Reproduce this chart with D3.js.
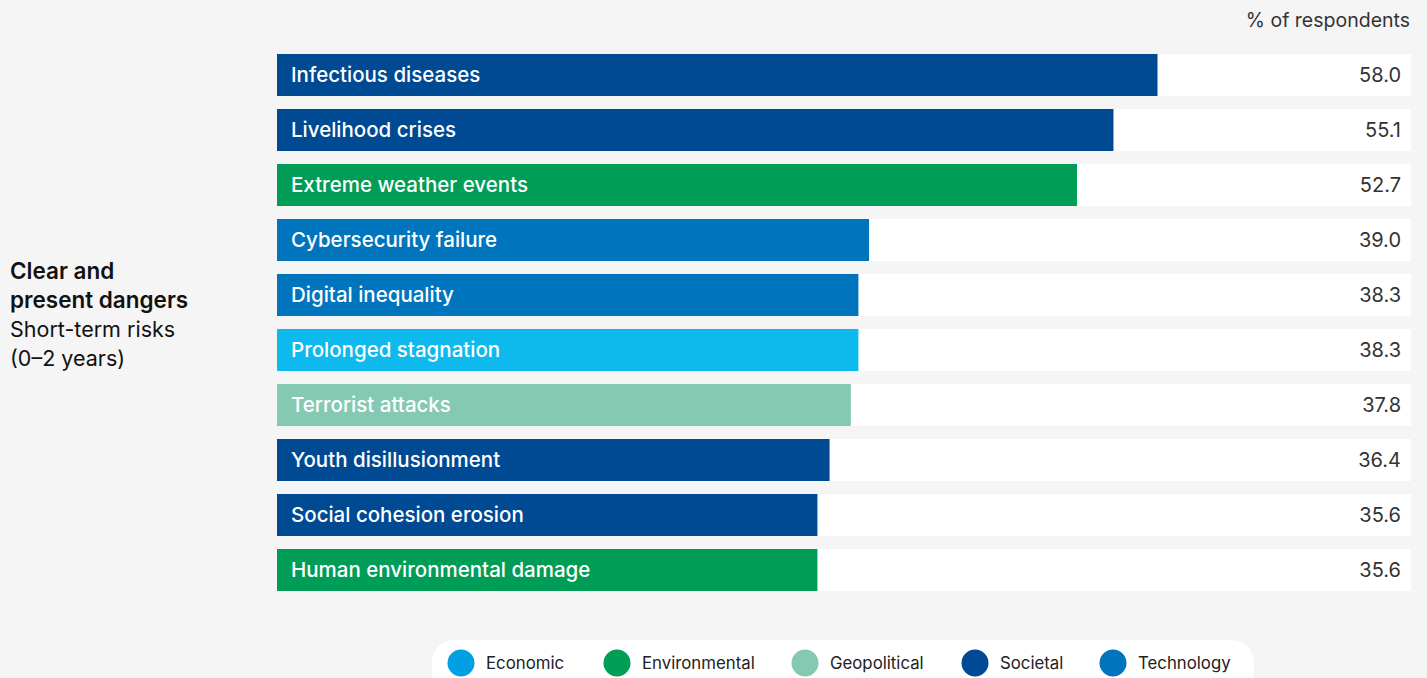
<!DOCTYPE html>
<html><head><meta charset="utf-8">
<script src="https://cdn.jsdelivr.net/npm/d3@7"></script>
<style>
html,body{margin:0;padding:0;background:#f5f5f5;}
svg{display:block;font-family:Inter,"Liberation Sans",Arial,sans-serif;}
</style></head><body>
<svg id="chart" width="1427" height="678"></svg>
<script>
const risks = ["Infectious diseases","Livelihood crises","Extreme weather events","Cybersecurity failure","Digital inequality","Prolonged stagnation","Terrorist attacks","Youth disillusionment","Social cohesion erosion","Human environmental damage"];
const values = [58.0,55.1,52.7,39.0,38.3,38.3,37.8,36.4,35.6,35.6];
const categories = ["Societal","Societal","Environmental","Technology","Technology","Economic","Geopolitical","Societal","Societal","Environmental"];
const legendNames = ["Economic","Environmental","Geopolitical","Societal","Technology"];
const legendColors = ["#00a0e3","#009d57","#86c9b3","#004a93","#0075be"];
const barColors = {Economic:"#0db9ed",Environmental:"#009d57",Geopolitical:"#86c9b3",Societal:"#004a93",Technology:"#0075be"};

const svg = d3.select("#chart");
const x = d3.scaleLinear().domain([0,74.7]).range([277,1411]);
const step = 55, bh = 42;
const y = d3.scalePoint().domain(risks).range([54, 54 + step*(risks.length-1)]);

svg.append("text").attr("x",1410).attr("y",27).attr("text-anchor","end")
  .attr("font-size",19.5).attr("fill","#333").text("% of respondents");

const rows = svg.append("g").selectAll("g.row").data(risks).join("g").attr("class","row");
rows.append("rect").attr("x",x(0)).attr("y",d=>y(d)).attr("width",x.range()[1]-x(0)).attr("height",bh).attr("fill","#fff");
rows.append("rect").attr("x",x(0)).attr("y",d=>y(d)).attr("width",(d,i)=>x(values[i])-x(0)).attr("height",bh)
  .attr("fill",(d,i)=>barColors[categories[i]]);
rows.append("text").attr("x",291).attr("y",d=>y(d)+bh/2+7).attr("fill","#fff").attr("font-size",20.5).attr("font-weight",500).text(d=>d);
rows.append("text").attr("x",1401).attr("y",d=>y(d)+bh/2+7).attr("text-anchor","end").attr("fill","#333").attr("font-size",20).text((d,i)=>values[i].toFixed(1));

const lt = svg.append("text").attr("fill","#111");
[["Clear and",600,279,22.5],["present dangers",600,308,22.5],["Short-term risks",400,337,21.5],["(0\u20132 years)",400,366,21.5]].forEach(([t,w,yy,fs])=>{
  lt.append("tspan").attr("x",10).attr("y",yy).attr("font-weight",w).attr("font-size",fs).text(t);
});

svg.append("rect").attr("x",432).attr("y",640).attr("width",822).attr("height",60).attr("rx",22).attr("fill","#fff");
const lx = [461,617,805,975,1113];
const lg = svg.selectAll("g.leg").data(legendNames).join("g").attr("class","leg");
lg.append("circle").attr("cx",(d,i)=>lx[i]).attr("cy",663).attr("r",13.5).attr("fill",(d,i)=>legendColors[i]);
lg.append("text").attr("x",(d,i)=>lx[i]+25).attr("y",669).attr("font-size",16.8).attr("fill","#222").text(d=>d);
</script></body></html>
